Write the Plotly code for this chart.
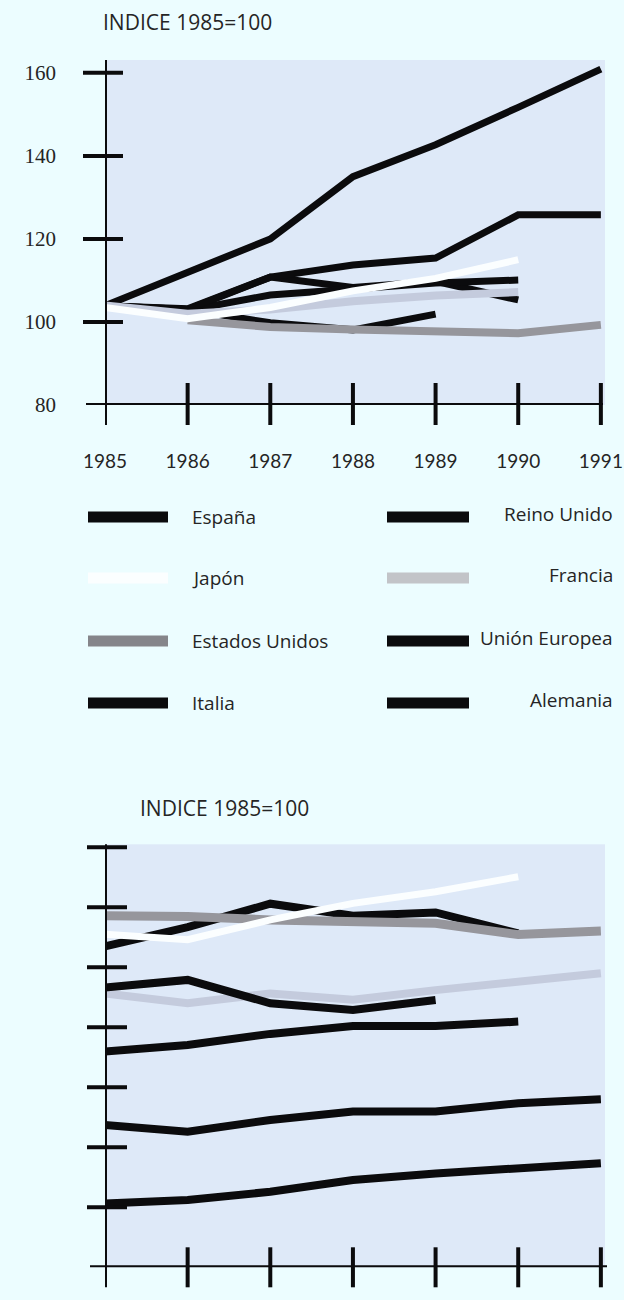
import plotly.graph_objects as go

# ---------------- data ----------------
years = [1985, 1986, 1987, 1988, 1989, 1990, 1991]
y_ticks_top = [80, 100, 120, 140, 160]
year_labels = ["1985", "1986", "1987", "1988", "1989", "1990", "1991"]

# top chart (INDICE 1985=100)
top_espana = [103.9, 111.9, 120.0, 135.0, 142.7, 151.7, 160.9]
top_reino_unido = [103.9, 103.2, 110.8, 113.7, 115.4, 125.8, 125.8]
top_union_europea = [103.9, 102.8, 106.5, 108.0, 109.4, 110.1, None]
top_italia = [103.9, 103.0, 110.8, 108.3, 109.8, 105.3, None]
top_alemania = [103.9, 103.0, 99.8, 98.1, 101.9, None, None]
top_estados_unidos = [None, 100.4, 98.8, 98.2, 97.8, 97.3, 99.3]
top_francia = [104.0, 102.0, 103.0, 105.0, 106.4, 107.2, None]
top_japon = [103.5, 100.8, 103.5, 107.5, 110.5, 115.0, None]

# bottom chart (INDICE 1985=100, unlabeled scale)
bot_espana = [21.3, 22.4, 25.2, 29.1, 31.3, 33.0, 34.7]
bot_reino_unido = [47.4, 45.2, 49.1, 51.9, 51.9, 54.7, 56.0]
bot_union_europea = [71.9, 74.1, 77.8, 80.4, 80.4, 81.9, None]
bot_francia = [91.3, 88.0, 91.3, 89.2, 92.4, 95.2, 98.0]
bot_alemania = [93.3, 95.8, 88.0, 85.8, 89.1, None, None]
bot_estados_unidos = [117.2, 116.9, 115.8, 115.2, 114.7, 110.9, 112.1]
bot_japon = [111.0, 109.2, 115.8, 121.3, 125.2, 130.2, None]
bot_italia = [107.0, 113.4, 121.2, 117.2, 118.3, 111.3, None]

legend_left = ["España", "Japón", "Estados Unidos", "Italia"]
legend_right = ["Reino Unido", "Francia", "Unión Europea", "Alemania"]

title_text = "INDICE 1985=100"

# ---------------- style ----------------
W, H = 624, 1300
PAGE_BG = "rgb(236,253,255)"
PLOT_BG = "rgb(222,233,248)"
BLACK = "#0b0b0d"
GREY_US = "#96969c"
GREY_FR = "#c4cbdd"
SW_US = "#85858a"
SW_FR = "#c2c4c8"
WHITE = "#fbfeff"
TXT = "#252525"
SANS = "'Open Sans', Lato, sans-serif"
DIGITS = "Lato, 'Open Sans', sans-serif"
SERIF = "'Liberation Serif', 'DejaVu Serif', serif"

def fy(px):
    return 1 - px / H

def fx(px):
    return px / W

fig = go.Figure()

def add(x_axis, y_axis, ys, color, width, name):
    fig.add_trace(go.Scatter(
        x=years, y=ys, mode="lines", name=name,
        line=dict(color=color, width=width),
        xaxis=x_axis, yaxis=y_axis, connectgaps=False,
        showlegend=False, hoverinfo="skip"))

# top chart traces (draw order matters)
add("x", "y", top_alemania, BLACK, 7, "Alemania")
add("x", "y", top_italia, BLACK, 7, "Italia")
add("x", "y", top_union_europea, BLACK, 7, "Unión Europea")
add("x", "y", top_reino_unido, BLACK, 7, "Reino Unido")
add("x", "y", top_espana, BLACK, 7, "España")
add("x", "y", top_estados_unidos, GREY_US, 8, "Estados Unidos")
add("x", "y", top_francia, GREY_FR, 8, "Francia")
add("x", "y", top_japon, WHITE, 7, "Japón")

# bottom chart traces
add("x2", "y2", bot_espana, BLACK, 8, "España")
add("x2", "y2", bot_reino_unido, BLACK, 8, "Reino Unido")
add("x2", "y2", bot_union_europea, BLACK, 8, "Unión Europea")
add("x2", "y2", bot_francia, GREY_FR, 8, "Francia")
add("x2", "y2", bot_alemania, BLACK, 8, "Alemania")
add("x2", "y2", bot_italia, BLACK, 8, "Italia")
add("x2", "y2", bot_estados_unidos, GREY_US, 9, "Estados Unidos")
add("x2", "y2", bot_japon, WHITE, 7, "Japón")

x_dom = [fx(105), fx(605)]
x_rng = [1985, 1991.05]

fig.update_layout(
    template="none",
    width=W, height=H,
    margin=dict(l=0, r=0, t=0, b=0, pad=0, autoexpand=False),
    paper_bgcolor=PAGE_BG, plot_bgcolor=PLOT_BG,
    xaxis=dict(domain=x_dom, range=x_rng, tickvals=years, ticktext=year_labels,
               showgrid=False, zeroline=False, showline=False, ticks="", automargin=False,
               tickfont=dict(family=DIGITS, size=19, color=TXT),
               ticklabelstandoff=43, anchor="y", fixedrange=True),
    yaxis=dict(domain=[fy(405), fy(60)], range=[80, 163.1], tickvals=y_ticks_top,
               showgrid=False, zeroline=False, showline=False, ticks="", automargin=False,
               tickfont=dict(family=SERIF, size=21, color=TXT),
               ticklabelstandoff=48, anchor="x", fixedrange=True),
    xaxis2=dict(domain=x_dom, range=x_rng, showticklabels=False, automargin=False,
                showgrid=False, zeroline=False, showline=False, ticks="",
                anchor="y2", fixedrange=True),
    yaxis2=dict(domain=[fy(1267.3), fy(844.3)], range=[0, 141], showticklabels=False,
                showgrid=False, zeroline=False, showline=False, ticks="", automargin=False,
                anchor="x2", fixedrange=True),
)

shapes = []

def line(xref, yref, x0, y0, x1, y1, w=4):
    shapes.append(dict(type="line", xref=xref, yref=yref, x0=x0, y0=y0, x1=x1, y1=y1,
                       line=dict(color=BLACK, width=w), layer="above"))

# --- top axes ---
line("x", "y domain", 1985, -20 / 345, 1985, 1.0)
line("x domain", "y", (86 - 105) / 500, 80, 0.996, 80)
for v in y_ticks_top[1:]:
    line("x domain", "y", (83 - 105) / 500, v, (123 - 105) / 500, v)
for yr in years[1:]:
    line("x", "y domain", yr, -20 / 345, yr, 22 / 345)

# --- bottom axes ---
line("x2", "y2 domain", 1985, -20 / 423, 1985, 1.0)
line("x2 domain", "y2", (90 - 105) / 500, 0, (607 - 105) / 500, 0)
for v in range(20, 141, 20):
    line("x2 domain", "y2", (87 - 105) / 500, v, (127 - 105) / 500, v)
for yr in years[1:]:
    line("x2", "y2 domain", yr, -20 / 423, yr, 20 / 423)

# --- legend swatches ---
row_y = [517, 578, 641, 703]
left_colors = [BLACK, WHITE, SW_US, BLACK]
right_colors = [BLACK, SW_FR, BLACK, BLACK]
for i in range(4):
    for (x0, x1, col) in [(88, 168, left_colors[i]), (387, 469, right_colors[i])]:
        shapes.append(dict(type="rect", xref="paper", yref="paper",
                           x0=fx(x0), x1=fx(x1), y0=fy(row_y[i] + 5.5), y1=fy(row_y[i] - 5.5),
                           fillcolor=col, line=dict(width=0)))

annotations = []
for i in range(4):
    annotations.append(dict(text=legend_left[i], xref="paper", yref="paper",
                            x=fx(190), y=fy(row_y[i]), xanchor="left", yanchor="middle",
                            showarrow=False, font=dict(family=SANS, size=19, color=TXT)))
    annotations.append(dict(text=legend_right[i], xref="paper", yref="paper",
                            x=fx(615), y=fy(row_y[i] - 3), xanchor="right", yanchor="middle",
                            showarrow=False, font=dict(family=SANS, size=19, color=TXT)))

annotations.append(dict(text=title_text, xref="paper", yref="paper", x=fx(101), y=fy(22),
                        xanchor="left", yanchor="middle", showarrow=False,
                        font=dict(family=SANS, size=21, color=TXT)))
annotations.append(dict(text=title_text, xref="paper", yref="paper", x=fx(138), y=fy(808),
                        xanchor="left", yanchor="middle", showarrow=False,
                        font=dict(family=SANS, size=21, color=TXT)))

fig.update_layout(shapes=shapes, annotations=annotations)

fig.write_html(
    "out.html",
    config={"displayModeBar": False},
    post_script="document.body.style.margin='0';document.body.style.background='rgb(236,253,255)';",
)
